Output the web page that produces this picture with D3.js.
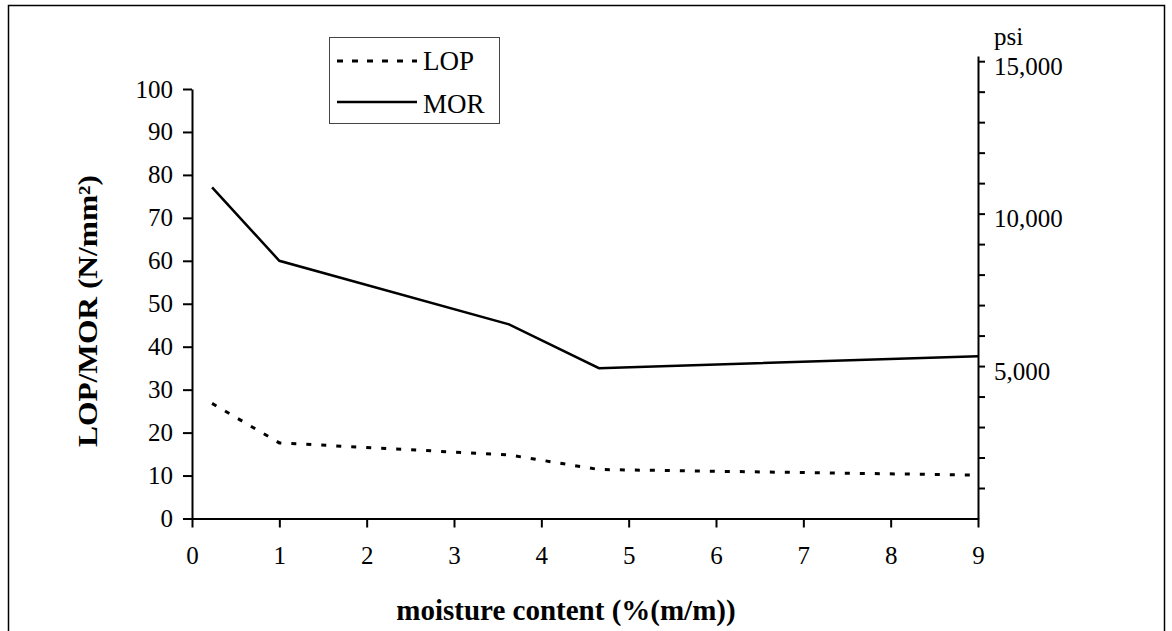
<html>
<head>
<script src="https://d3js.org/d3.v7.min.js"></script>
<style>
  body { margin: 0; background: #fff; }
  text { font-family: "Liberation Serif", "Times New Roman", serif; fill: #000; }
  .axis path, .axis line { stroke: #000; stroke-width: 2; }
  .axis text { font-size: 25px; font-family: "Liberation Serif", serif; }
</style>
</head>
<body>
<svg id="chart" width="1172" height="631"></svg>
<script>
// moisture content (%) and strengths (N/mm2)
const moisture = [0.23, 1.0, 3.63, 4.66, 9.0];
const morValues = [77.1, 60.0, 45.2, 35.0, 37.8];
const lopValues = [26.8, 17.6, 14.8, 11.4, 10.1];
const xTicks = [0, 1, 2, 3, 4, 5, 6, 7, 8, 9];
const yTicks = [0, 10, 20, 30, 40, 50, 60, 70, 80, 90, 100];
const psiTicks = d3.range(1000, 15001, 1000);
const psiLabels = [5000, 10000, 15000];

const svg = d3.select('svg#chart');

// outer frame (bottom edge runs off the picture)
svg.append('rect')
  .attr('x', 8.5).attr('y', 5.5)
  .attr('width', 1156).attr('height', 640)
  .attr('fill', 'none').attr('stroke', '#000').attr('stroke-width', 1.5);

const x = d3.scaleLinear().domain([0, 9]).range([192, 978]);
const y = d3.scaleLinear().domain([0, 100]).range([518.5, 89]);
const psi = d3.scaleLinear().domain([0, 15170]).range([518.5, 56]);

svg.append('g')
  .attr('class', 'x axis')
  .attr('transform', `translate(0,${y(0)})`)
  .call(d3.axisBottom(x).tickValues(xTicks).tickSize(9).tickSizeOuter(0).tickPadding(19));

svg.append('g')
  .attr('class', 'y axis')
  .attr('transform', `translate(${x(0)},0)`)
  .call(d3.axisLeft(y).tickValues(yTicks).tickSize(9).tickSizeOuter(0).tickPadding(10));

let right = svg.append('g')
  .attr('class', 'psi axis')
  .attr('transform', `translate(${x(9)},0)`)
  .call(d3.axisRight(psi).tickValues(psiTicks).tickSize(7).tickSizeOuter(0).tickPadding(9)
    .tickFormat(d => psiLabels.includes(d) ? d3.format(',')(d) : ''));
right.selectAll('text').attr('dy', '0.52em');

svg.append('text')
  .attr('x', 994).attr('y', 45)
  .attr('font-size', 25)
  .text('psi');

const line = d3.line().x(d => x(d[0])).y(d => y(d[1]));

svg.append('path')
  .datum(d3.zip(moisture, morValues))
  .attr('d', line)
  .attr('fill', 'none').attr('stroke', '#000').attr('stroke-width', 2.5);

svg.append('path')
  .datum(d3.zip(moisture, lopValues))
  .attr('d', line)
  .attr('fill', 'none').attr('stroke', '#000').attr('stroke-width', 3)
  .attr('stroke-dasharray', '5,10');

// legend
let legend = svg.append('g');
legend.append('rect')
  .attr('x', 329.5).attr('y', 37.5).attr('width', 170).attr('height', 86)
  .attr('fill', '#fff').attr('stroke', '#444').attr('stroke-width', 1);
legend.append('line')
  .attr('x1', 337).attr('x2', 417).attr('y1', 61).attr('y2', 61)
  .attr('stroke', '#000').attr('stroke-width', 3).attr('stroke-dasharray', '6,9');
legend.append('line')
  .attr('x1', 337).attr('x2', 417).attr('y1', 102).attr('y2', 102)
  .attr('stroke', '#000').attr('stroke-width', 2.5);
legend.append('text').attr('x', 423).attr('y', 70).attr('font-size', 27).text('LOP');
legend.append('text').attr('x', 423).attr('y', 113).attr('font-size', 27).text('MOR');

// axis titles
svg.append('text')
  .attr('transform', 'translate(97,311) rotate(-90)')
  .attr('text-anchor', 'middle')
  .attr('font-size', 27).attr('font-weight', 'bold')
  .attr('textLength', 272).attr('lengthAdjust', 'spacingAndGlyphs')
  .text('LOP/MOR (N/mm²)');

svg.append('text')
  .attr('x', 566).attr('y', 620)
  .attr('text-anchor', 'middle')
  .attr('font-size', 29).attr('font-weight', 'bold')
  .text('moisture content (%(m/m))');
</script>
</body>
</html>
